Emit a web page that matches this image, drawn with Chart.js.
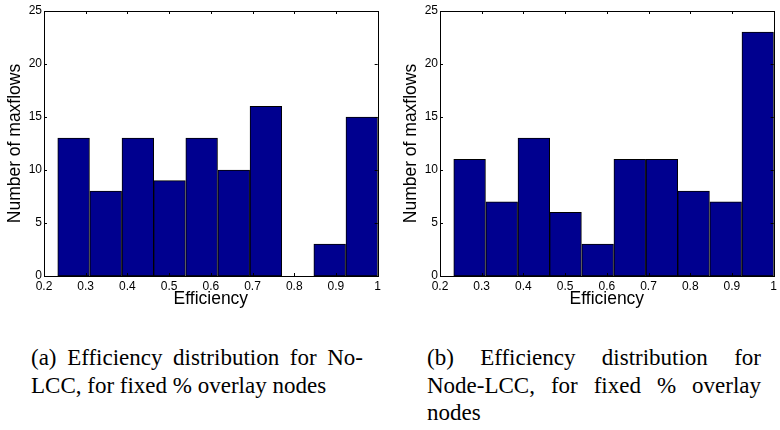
<!DOCTYPE html>
<html>
<head>
<meta charset="utf-8">
<script src="https://cdn.jsdelivr.net/npm/chart.js@4.4.0/dist/chart.umd.min.js"></script>
<style>
    body { margin: 0; background: #fff; width: 780px; height: 430px; position: relative; overflow: hidden; }
    .panel { position: absolute; top: 0; }
    .caption {
        position: absolute;
        font-family: "Liberation Serif", "Times New Roman", serif;
        font-size: 23px;
        line-height: 27.5px;
        text-align: justify;
        text-align-last: left;
        color: #000;
    }
    .nowrap { white-space: nowrap; }
</style>
</head>
<body>
<canvas id="chart-a" class="panel" width="384" height="312" style="left:0px"></canvas>
<canvas id="chart-b" class="panel" width="384" height="312" style="left:396px"></canvas>

<div class="caption" style="left:31px; top:344px; width:332px;">(a) Efficiency distribution for No-LCC, for fixed % overlay nodes</div>
<div class="caption" style="left:427px; top:344px; width:334px;">(b) Efficiency distribution for <span class="nowrap">Node-LCC,</span> for fixed % overlay nodes</div>

<script>
// Centres des classes de l'histogramme (10 classes entre ~0.23 et 1)
const binCenters = [0.271, 0.348, 0.425, 0.501, 0.578, 0.655, 0.732, 0.808, 0.885, 0.962];

// Nombre de maxflows par classe
const noLccCounts = [13, 8, 13, 9, 13, 10, 16, 0, 3, 15];
const nodeLccCounts = [11, 7, 13, 6, 3, 11, 11, 8, 7, 23];

// Graduations
const xTicks = [0.2, 0.3, 0.4, 0.5, 0.6, 0.7, 0.8, 0.9, 1.0];
const xTickLabels = ['0.2', '0.3', '0.4', '0.5', '0.6', '0.7', '0.8', '0.9', '1'];
const yTicks = [0, 5, 10, 15, 20, 25];

const sansFont = '"Liberation Sans", Arial, Helvetica, sans-serif';

/**
 * Cadre type MATLAB : boîte complète + graduations vers l'intérieur
 */
const boxPlugin = {
    id: 'matlabBox',
    afterDatasetsDraw(chart) {
        const { ctx, chartArea: a, scales: { x, y } } = chart;
        const len = 3;
        ctx.save();
        ctx.strokeStyle = '#000';
        ctx.lineWidth = 1;
        ctx.beginPath();
        xTicks.forEach(v => {
            const px = Math.round(x.getPixelForValue(v)) + 0.5;
            ctx.moveTo(px, a.bottom);
            ctx.lineTo(px, a.bottom - len);
            ctx.moveTo(px, a.top);
            ctx.lineTo(px, a.top + len);
        });
        yTicks.forEach(v => {
            const py = Math.round(y.getPixelForValue(v)) + 0.5;
            ctx.moveTo(a.left, py);
            ctx.lineTo(a.left + len, py);
            ctx.moveTo(a.right, py);
            ctx.lineTo(a.right - len, py);
        });
        ctx.stroke();
        ctx.strokeRect(Math.round(a.left) + 0.5, Math.round(a.top) + 0.5,
            Math.round(a.width), Math.round(a.height));
        ctx.restore();
    }
};

function renderHistogram(canvasId, counts) {
    const ctx = document.getElementById(canvasId);
    return new Chart(ctx, {
        type: 'bar',
        data: {
            datasets: [{
                data: binCenters.map((c, i) => ({ x: c, y: counts[i] })),
                backgroundColor: '#00008F',
                borderColor: '#000',
                borderWidth: 1,
                borderSkipped: false,
                barPercentage: 1,
                categoryPercentage: 1
            }]
        },
        options: {
            responsive: false,
            animation: false,
            layout: { padding: { top: 11, right: 4, left: 0, bottom: 0 } },
            plugins: {
                legend: { display: false },
                tooltip: { enabled: false }
            },
            scales: {
                x: {
                    type: 'linear',
                    min: 0.2,
                    max: 1,
                    offset: false,
                    afterBuildTicks: scale => { scale.ticks = xTicks.map(v => ({ value: v })); },
                    afterFit: scale => { scale.height = 36; },
                    grid: { display: false, drawTicks: false, offset: false },
                    border: { display: false },
                    ticks: {
                        autoSkip: false,
                        maxRotation: 0,
                        padding: 3,
                        color: '#000',
                        font: { family: sansFont, size: 12 },
                        callback: (value, index) => xTickLabels[index]
                    },
                    title: {
                        display: true,
                        text: 'Efficiency',
                        color: '#000',
                        font: { family: sansFont, size: 17.5 },
                        padding: { top: 0, bottom: 2 }
                    }
                },
                y: {
                    min: 0,
                    max: 25,
                    afterBuildTicks: scale => { scale.ticks = yTicks.map(v => ({ value: v })); },
                    afterFit: scale => { scale.width = 44; },
                    grid: { display: false, drawTicks: false },
                    border: { display: false },
                    ticks: {
                        padding: 2,
                        color: '#000',
                        font: { family: sansFont, size: 12 }
                    },
                    title: {
                        display: true,
                        text: 'Number of maxflows',
                        color: '#000',
                        font: { family: sansFont, size: 17.5 },
                        padding: { top: 5, bottom: 0 }
                    }
                }
            }
        },
        plugins: [boxPlugin]
    });
}

renderHistogram('chart-a', noLccCounts);
renderHistogram('chart-b', nodeLccCounts);
</script>
</body>
</html>
